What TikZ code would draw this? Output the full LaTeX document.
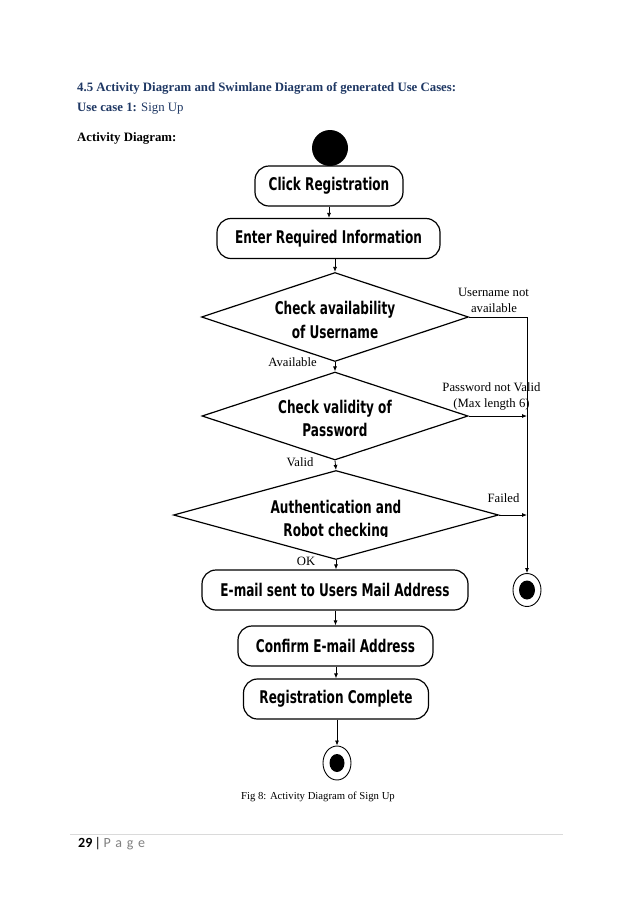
\documentclass[tikz,border=0pt]{standalone}
\usepackage{fontspec}
\setmainfont{Liberation Serif}
\newfontfamily\nodefont[FakeStretch=0.69]{DejaVu Sans}
\newfontfamily\footfont{Carlito}
\usetikzlibrary{shapes.geometric,arrows.meta}
\definecolor{navy}{HTML}{1F3864}
\definecolor{pagegray}{HTML}{808080}
\definecolor{rulegray}{HTML}{DADADA}
\begin{document}
\begin{tikzpicture}[x=1pt,y=-1pt,
  act/.style={draw, line width=1.2pt, rounded corners=14pt, minimum height=40pt, inner sep=0pt,
    font=\nodefont\bfseries\fontsize{17.5}{23}\selectfont},
  dec/.style={draw, diamond, line width=1.2pt, inner sep=0pt},
  dtext/.style={align=center, inner sep=0pt,
    font=\nodefont\bfseries\fontsize{17.5}{23.5}\selectfont},
  arr/.style={line width=0.8pt, -{Latex[length=5pt,width=4pt]}},
  lbl/.style={font=\fontsize{12.7}{14}\selectfont, inner sep=0pt, anchor=base},
  head/.style={inner sep=0pt, anchor=base west, font=\fontsize{12.8}{14}\selectfont},
  endouter/.style={draw, ellipse, line width=0.9pt, inner sep=0pt},
  endinner/.style={fill=black, ellipse, inner sep=0pt}
]
\useasboundingbox (0,0) rectangle (638,903);

% headings
\node[head, text=navy] (h1) at (77,91.5) {\bfseries 4.5 Activity Diagram and Swimlane Diagram of generated Use Cases:};
\node[head, text=navy] (h2) at (77,111.5) {\textbf{Use case 1:} Sign Up};
\node[head] (h3) at (77,141) {\bfseries Activity Diagram:};

% start
\node[fill=black, circle, minimum size=36pt, inner sep=0pt] (start) at (330,148) {};

% activities
\node[act, minimum width=148pt] (click) at (329,186) {Click Registration};
\node[act, minimum width=223pt] (enter) at (328.5,238.5) {Enter Required Information};

% decisions
\node[dec, minimum width=267pt, minimum height=89pt] (d1) at (335,317) {};
\node[dtext] (t1) at (335,320) {Check availability\\of Username};
\node[dec, minimum width=266pt, minimum height=88pt] (d2) at (335,416) {};
\node[dtext] (t2) at (335,418.5) {Check validity of\\Password};
\node[dec, minimum width=325pt, minimum height=89pt] (d3) at (336,515) {};
\begin{scope}
  \clip (150,470) rectangle (520,536.8);
  \node[dtext] (t3) at (336,520) {Authentication and\\Robot checking};
\end{scope}

\node[act, minimum width=266pt] (email) at (335,590) {E-mail sent to Users Mail Address};
\node[act, minimum width=195pt] (confirm) at (335.5,646) {Confirm E-mail Address};
\node[act, minimum width=185pt] (done) at (336,699) {Registration Complete};

% finals
\node[endouter, minimum width=28pt, minimum height=33pt] (end2) at (527,590) {};
\node[endinner, minimum width=16pt, minimum height=19pt] (end2in) at (end2) {};
\node[endouter, minimum width=28pt, minimum height=34pt] (end1) at (337,763) {};
\node[endinner, minimum width=15pt, minimum height=18pt] (end1in) at (end1) {};

% connectors
\draw[arr] (start.center) -- (click.north);
\draw[arr] (click.south) -- (click.south |- enter.north);
\draw[arr] (d1.north |- enter.south) -- (d1.north);
\draw[arr] (d1.south) -- (d2.north);
\draw[arr] (d2.south) -- (d3.north);
\draw[arr] (d3.south) -- (d3.south |- email.north);
\draw[arr] (confirm.north |- email.south) -- (confirm.north);
\draw[arr] (done.north |- confirm.south) -- (done.north);
\draw[arr] (end1.north |- done.south) -- (end1.north);
\draw[arr] (d1.east) -| (end2.north);
\draw[arr] (d2.east) -- (d2.east -| end2.north);
\draw[arr] (d3.east) -- (d3.east -| end2.north);

% guard labels
\node[lbl] (l1a) at (493.5,296) {Username not};
\node[lbl] (l1b) at (494,312.5) {available};
\node[lbl] (l2) at (292.5,366) {Available};
\node[lbl] (l3a) at (491.5,391) {Password not Valid};
\node[lbl] (l3b) at (491.5,407) {(Max length 6)};
\node[lbl] (l4) at (300,466) {Valid};
\node[lbl] (l5) at (503.5,502) {Failed};
\node[lbl] (l6) at (306,565) {OK};

% caption
\node[inner sep=0pt, anchor=base, font=\fontsize{10.7}{12}\selectfont] (cap) at (318,799) {Fig 8: Activity Diagram of Sign Up};

% footer
\coordinate (r1) at (70,834);
\coordinate (r2) at (563,834);
\draw[rulegray, line width=0.8pt] (r1) -- (r2);
\node[inner sep=0pt, anchor=base west, font=\footfont\fontsize{14}{16}\selectfont] (pg) at (78,847)
  {\textbf{29}\,|\,\textcolor{pagegray}{P\,\,a\,\,g\,\,e}};
\end{tikzpicture}
\end{document}
